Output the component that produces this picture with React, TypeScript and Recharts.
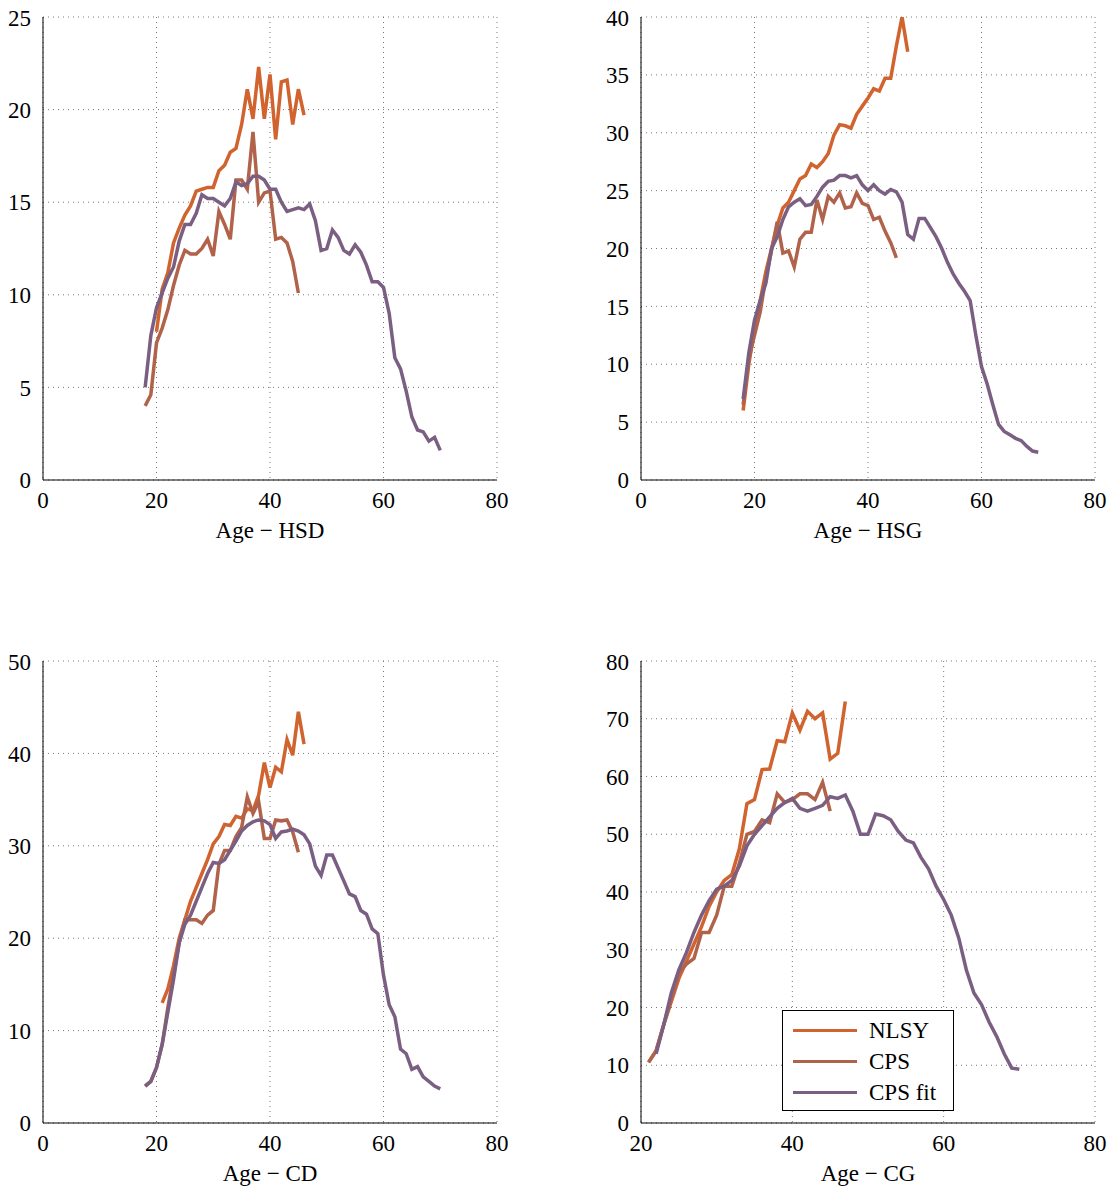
import React from "react";
import { LineChart, Line, XAxis, YAxis, CartesianGrid } from "recharts";

const NLSY_COLOR = "#d0632e";
const CPS_COLOR = "#b0634a";
const FIT_COLOR = "#7b5f82";

// HSD
const hsdNlsyStart = 20;
const hsdNlsy = [8, 10.3, 11.2, 12.8, 13.6, 14.3, 14.8, 15.6, 15.7, 15.8, 15.8, 16.7, 17, 17.7, 17.9, 19.2, 21.1, 19.5, 22.3, 19.5, 21.9, 18.4, 21.5, 21.6, 19.2, 21.1, 19.7];
const hsdCpsStart = 18;
const hsdCps = [4, 4.6, 7.4, 8.2, 9.2, 10.5, 11.6, 12.4, 12.2, 12.2, 12.5, 13, 12.1, 14.5, 13.8, 13, 16.2, 16.2, 15.7, 18.8, 15, 15.5, 15.6, 13, 13.1, 12.8, 11.8, 10.1];
const hsdFitStart = 18;
const hsdFit = [5, 7.8, 9.3, 10.1, 10.9, 11.5, 12.9, 13.8, 13.8, 14.4, 15.4, 15.2, 15.2, 15.0, 14.8, 15.2, 16.1, 15.9, 16.0, 16.4, 16.4, 16.2, 15.7, 15.7, 15.0, 14.5, 14.6, 14.7, 14.6, 14.9, 14.0, 12.4, 12.5, 13.5, 13.1, 12.4, 12.2, 12.7, 12.3, 11.6, 10.7, 10.7, 10.4, 9.0, 6.6, 6.0, 4.8, 3.4, 2.7, 2.6, 2.1, 2.3, 1.6];

// HSG
const hsgNlsyStart = 18;
const hsgNlsy = [6, 10, 13, 15.5, 18, 20, 22, 23.5, 24, 25, 26, 26.3, 27.3, 27, 27.5, 28.2, 29.8, 30.7, 30.6, 30.4, 31.6, 32.3, 33, 33.8, 33.6, 34.7, 34.7, 37.5, 40, 37];
const hsgCpsStart = 18;
const hsgCps = [6.5, 10.5, 12.5, 14.5, 17.5, 19.8, 22.3, 19.6, 19.8, 18.4, 20.8, 21.4, 21.4, 24.2, 22.5, 24.5, 24, 24.8, 23.5, 23.6, 24.8, 23.9, 23.7, 22.5, 22.7, 21.5, 20.5, 19.2];
const hsgFitStart = 18;
const hsgFit = [7, 11, 13.8, 15.5, 17, 20, 21, 22.5, 23.6, 24, 24.3, 23.7, 23.8, 24.5, 25.3, 25.8, 25.9, 26.3, 26.3, 26.1, 26.3, 25.5, 25, 25.5, 25, 24.7, 25.1, 24.9, 24.0, 21.2, 20.8, 22.6, 22.6, 21.8, 21, 20, 18.8, 17.8, 17, 16.3, 15.5, 12.5, 9.8, 8.3, 6.5, 4.8, 4.2, 3.9, 3.6, 3.4, 2.9, 2.5, 2.4];

// CD
const cdNlsyStart = 21;
const cdNlsy = [13, 14.5, 17, 20, 22, 24, 25.5, 27, 28.5, 30.2, 31, 32.3, 32.2, 33.2, 33, 34, 33.8, 35.5, 39, 36.3, 38.5, 38, 41.5, 39.8, 44.5, 41];
const cdCpsStart = 18;
const cdCps = [4, 4.5, 6, 8.5, 12.5, 16, 19.5, 22, 22, 22, 21.6, 22.5, 23, 28, 29.5, 29.5, 31, 32, 35.3, 33.5, 34.8, 30.8, 30.8, 32.8, 32.7, 32.8, 31.5, 29.3];
const cdFitStart = 18;
const cdFit = [4, 4.5, 6, 8.5, 12, 15.5, 19.5, 21.5, 22.5, 24, 25.5, 27, 28.2, 28.1, 28.5, 29.5, 30.5, 31.6, 32.2, 32.6, 32.8, 32.7, 32.3, 30.8, 31.5, 31.6, 31.8, 31.6, 31.2, 30.2, 27.8, 26.8, 29, 29, 27.6, 26.2, 24.8, 24.5, 23, 22.6, 21, 20.5, 16, 12.8, 11.5, 8, 7.5, 5.8, 6.1, 5, 4.5, 4.0, 3.7];

// CG
const cgNlsyStart = 21;
const cgNlsy = [10.5, 12.5, 17, 21, 25, 28, 31, 34, 37.5, 40, 42, 43, 47.5, 55.3, 56, 61.2, 61.3, 66.2, 66, 71, 68, 71.3, 70, 71, 63, 64, 73];
const cgCpsStart = 21;
const cgCps = [10.5, 12.5, 17, 21.5, 26, 27.5, 28.5, 33, 33, 36, 41, 41, 45, 50, 50.5, 52.5, 52, 57, 55.5, 56, 57, 57, 56, 59, 54];
const cgFitStart = 22;
const cgFit = [12, 17, 22.5, 26.5, 29.5, 33, 36, 38.5, 40.5, 41, 42, 44.5, 48, 50, 51.5, 53, 54.5, 55.5, 56.2, 54.5, 54, 54.5, 55, 56.5, 56.2, 56.8, 54, 50, 50, 53.5, 53.2, 52.5, 50.5, 49, 48.5, 46, 44, 41, 38.7, 36, 32, 26.5, 22.5, 20.5, 17.5, 15, 12, 9.5, 9.3];

const toPts = (start: number, vals: number[]) => vals.map((y, i) => ({ x: start + i, y }));

const FONT = "'Liberation Serif', 'DejaVu Serif', serif";
const tickStyle = { fontSize: 23, fill: "#000", fontFamily: FONT };

type PanelProps = {
  left: number; top: number; right: number; bottom: number;
  xDomain: [number, number]; xTicks: number[];
  yDomain: [number, number]; yTicks: number[];
  label: string;
  series: { data: { x: number; y: number }[]; color: string; name: string }[];
};

function Panel(p: PanelProps) {
  const ml = 42, mt = 12, mr = 20, xh = 64;
  const w = p.right - p.left + ml + mr;
  const h = p.bottom - p.top + mt + xh;
  return (
    <div style={{ position: "absolute", left: p.left - 8 - ml, top: p.top - 8 - mt }}>
      <LineChart width={w} height={h} margin={{ top: mt, right: mr, left: 0, bottom: 0 }}>
        <CartesianGrid stroke="#777" strokeDasharray="1 4" />
        <XAxis type="number" dataKey="x" domain={p.xDomain} ticks={p.xTicks} allowDataOverflow
          height={xh} tickLine={false} tickMargin={6} stroke="#000" tick={tickStyle}
          label={{ value: p.label, position: "insideBottom", offset: 6, style: { fontSize: 23, fill: "#000", fontFamily: FONT } }} />
        <YAxis type="number" domain={p.yDomain} ticks={p.yTicks} allowDataOverflow width={ml}
          tickLine={false} tickMargin={6} stroke="#000" tick={tickStyle} />
        {p.series.map((s) => (
          <Line key={s.name} data={s.data} dataKey="y" type="linear" stroke={s.color} strokeWidth={3.5}
            dot={false} isAnimationActive={false} />
        ))}
      </LineChart>
    </div>
  );
}

export default function App() {
  const yt = (max: number, step: number) => Array.from({ length: max / step + 1 }, (_, i) => i * step);
  return (
    <div style={{ position: "relative", width: 1100, height: 1180, fontFamily: FONT }}>
      <Panel left={43} top={17} right={497} bottom={480} xDomain={[0, 80]} xTicks={[0, 20, 40, 60, 80]}
        yDomain={[0, 25]} yTicks={yt(25, 5)} label="Age − HSD"
        series={[
          { name: "NLSY", color: NLSY_COLOR, data: toPts(hsdNlsyStart, hsdNlsy) },
          { name: "CPS", color: CPS_COLOR, data: toPts(hsdCpsStart, hsdCps) },
          { name: "CPS fit", color: FIT_COLOR, data: toPts(hsdFitStart, hsdFit) },
        ]} />
      <Panel left={641} top={17} right={1095} bottom={480} xDomain={[0, 80]} xTicks={[0, 20, 40, 60, 80]}
        yDomain={[0, 40]} yTicks={yt(40, 5)} label="Age − HSG"
        series={[
          { name: "NLSY", color: NLSY_COLOR, data: toPts(hsgNlsyStart, hsgNlsy) },
          { name: "CPS", color: CPS_COLOR, data: toPts(hsgCpsStart, hsgCps) },
          { name: "CPS fit", color: FIT_COLOR, data: toPts(hsgFitStart, hsgFit) },
        ]} />
      <Panel left={43} top={661} right={497} bottom={1123} xDomain={[0, 80]} xTicks={[0, 20, 40, 60, 80]}
        yDomain={[0, 50]} yTicks={yt(50, 10)} label="Age − CD"
        series={[
          { name: "NLSY", color: NLSY_COLOR, data: toPts(cdNlsyStart, cdNlsy) },
          { name: "CPS", color: CPS_COLOR, data: toPts(cdCpsStart, cdCps) },
          { name: "CPS fit", color: FIT_COLOR, data: toPts(cdFitStart, cdFit) },
        ]} />
      <Panel left={641} top={661} right={1095} bottom={1123} xDomain={[20, 80]} xTicks={[20, 40, 60, 80]}
        yDomain={[0, 80]} yTicks={yt(80, 10)} label="Age − CG"
        series={[
          { name: "NLSY", color: NLSY_COLOR, data: toPts(cgNlsyStart, cgNlsy) },
          { name: "CPS", color: CPS_COLOR, data: toPts(cgCpsStart, cgCps) },
          { name: "CPS fit", color: FIT_COLOR, data: toPts(cgFitStart, cgFit) },
        ]} />
      <div style={{ position: "absolute", left: 782 - 8, top: 1010 - 8, width: 172, height: 101, border: "1.5px solid #000", background: "#fff", boxSizing: "border-box", padding: "4px 0 0 10px" }}>
        {[["NLSY", NLSY_COLOR], ["CPS", CPS_COLOR], ["CPS fit", FIT_COLOR]].map(([n, c]) => (
          <div key={n} style={{ display: "flex", alignItems: "center", height: 31, fontSize: 23 }}>
            <div style={{ width: 64, height: 3.5, background: c, marginRight: 12 }} />
            <span>{n}</span>
          </div>
        ))}
      </div>
    </div>
  );
}
